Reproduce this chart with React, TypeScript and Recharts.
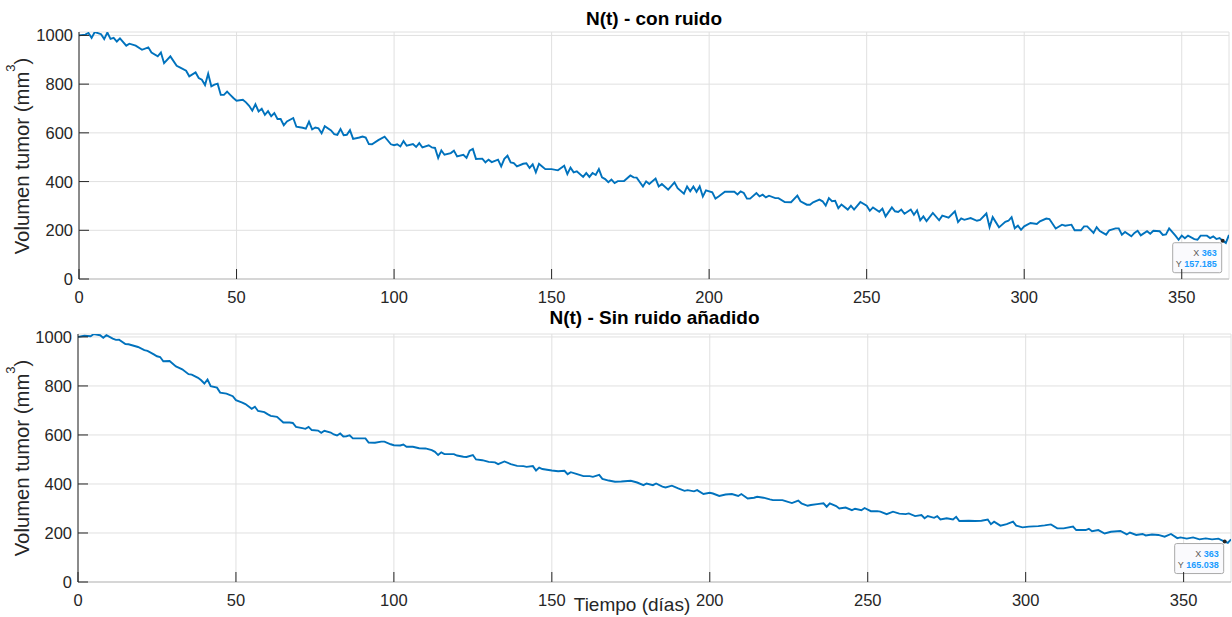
import React from 'react';
import { LineChart, Line, XAxis, YAxis, CartesianGrid, ReferenceDot } from 'recharts';

// axis ticks
const xTicks = [0, 50, 100, 150, 200, 250, 300, 350];
const yTicks = [0, 200, 400, 600, 800, 1000];

// N(t) - con ruido
const diasConRuido = [
  0, 2, 3, 4, 5, 7, 8, 9, 10, 11,
  12, 13, 15, 16, 18, 20, 22, 23, 25, 26,
  27, 29, 31, 32, 34, 35, 37, 38, 39, 40,
  41, 42, 43, 44, 45, 46, 47, 48, 49, 50,
  52, 53, 54, 55, 56, 57, 58, 59, 60, 61,
  62, 63, 64, 65, 66, 68, 69, 71, 72, 73,
  74, 75, 76, 77, 78, 80, 81, 82, 83, 84,
  85, 86, 87, 89, 90, 91, 92, 93, 95, 97,
  99, 100, 101, 102, 103, 104, 106, 107, 108, 109,
  111, 112, 113, 114, 115, 116, 118, 119, 120, 122,
  123, 124, 125, 126, 128, 129, 130, 131, 133, 134,
  135, 136, 137, 138, 139, 141, 142, 143, 144, 145,
  146, 147, 148, 150, 152, 154, 155, 156, 157, 158,
  160, 161, 162, 163, 164, 165, 166, 167, 168, 169,
  170, 171, 173, 175, 176, 177, 179, 180, 181, 183,
  184, 185, 187, 189, 190, 192, 193, 194, 195, 196,
  197, 198, 199, 201, 202, 203, 205, 208, 209, 210,
  211, 212, 213, 215, 216, 217, 218, 219, 221, 222,
  224, 226, 228, 229, 231, 232, 233, 235, 236, 237,
  238, 239, 240, 241, 242, 244, 245, 246, 248, 250,
  251, 252, 254, 255, 256, 258, 259, 260, 261, 262,
  264, 265, 266, 267, 268, 269, 271, 273, 274, 276,
  278, 279, 280, 281, 283, 285, 286, 288, 289, 290,
  292, 294, 295, 296, 297, 298, 299, 300, 302, 304,
  305, 307, 308, 310, 312, 313, 315, 316, 318, 319,
  320, 322, 323, 324, 326, 327, 329, 330, 331, 332,
  334, 335, 336, 337, 339, 340, 341, 343, 344, 345,
  346, 348, 349, 350, 351, 352, 354, 355, 356, 358,
  359, 360, 361, 362, 363, 364, 365,
];
const volConRuido = [
  1000, 1003, 1010, 990, 1014, 1005, 985, 1012, 986, 990,
  975, 988, 958, 966, 958, 941, 951, 930, 914, 930,
  886, 914, 875, 869, 855, 832, 848, 825, 818, 796,
  843, 791, 798, 802, 756, 756, 769, 756, 743, 732,
  736, 725, 711, 691, 717, 688, 699, 674, 689, 668,
  681, 657, 657, 631, 647, 661, 625, 621, 617, 646,
  614, 622, 619, 598, 627, 610, 595, 592, 616, 590,
  592, 611, 575, 581, 585, 581, 554, 553, 570, 584,
  553, 549, 553, 544, 566, 547, 554, 542, 558, 540,
  549, 540, 538, 497, 528, 510, 517, 527, 503, 510,
  497, 527, 534, 493, 494, 479, 490, 480, 490, 462,
  493, 506, 479, 476, 462, 473, 475, 456, 471, 438,
  473, 462, 451, 451, 446, 465, 431, 457, 438, 442,
  419, 435, 419, 435, 427, 451, 417, 410, 397, 408,
  394, 402, 402, 425, 417, 416, 380, 401, 390, 412,
  380, 390, 367, 397, 373, 350, 380, 360, 380, 358,
  380, 339, 364, 356, 330, 339, 358, 358, 347, 360,
  353, 330, 330, 353, 339, 346, 335, 342, 332, 332,
  316, 315, 342, 319, 305, 305, 315, 326, 319, 301,
  332, 319, 321, 291, 306, 285, 301, 285, 316, 301,
  280, 294, 276, 289, 257, 294, 278, 275, 285, 268,
  285, 264, 282, 241, 257, 238, 271, 241, 260, 252,
  278, 234, 249, 243, 250, 239, 243, 269, 213, 254,
  212, 235, 239, 254, 208, 219, 202, 216, 230, 226,
  237, 248, 246, 207, 223, 219, 223, 200, 200, 216,
  216, 189, 213, 197, 182, 200, 208, 208, 182, 193,
  175, 189, 198, 179, 196, 186, 198, 196, 181, 183,
  208, 178, 161, 178, 167, 178, 164, 161, 178, 178,
  168, 175, 164, 168, 157.185, 148, 181,
];

// N(t) - Sin ruido añadido
const diasSinRuido = [
  0, 2, 4, 5, 7, 8, 9, 11, 12, 13,
  15, 16, 19, 21, 22, 24, 25, 26, 27, 29,
  31, 33, 35, 36, 38, 39, 40, 41, 42, 44,
  45, 47, 49, 50, 52, 53, 55, 56, 57, 59,
  60, 61, 63, 65, 67, 68, 69, 71, 72, 73,
  74, 76, 77, 78, 80, 81, 82, 83, 84, 85,
  86, 87, 89, 91, 92, 94, 96, 97, 99, 100,
  102, 103, 104, 106, 108, 110, 112, 113, 114, 115,
  116, 119, 120, 122, 123, 125, 126, 128, 130, 132,
  133, 135, 137, 139, 141, 142, 144, 145, 146, 147,
  150, 152, 154, 155, 156, 158, 160, 162, 163, 165,
  166, 168, 170, 172, 175, 177, 179, 180, 182, 183,
  185, 186, 188, 190, 192, 193, 195, 196, 198, 200,
  201, 203, 205, 207, 209, 210, 212, 214, 215, 217,
  219, 220, 223, 224, 226, 228, 229, 231, 232, 234,
  236, 237, 238, 240, 241, 243, 245, 246, 248, 249,
  251, 253, 254, 256, 258, 260, 262, 263, 265, 267,
  268, 269, 271, 272, 273, 275, 277, 278, 279, 282,
  284, 286, 288, 289, 290, 292, 294, 296, 297, 299,
  301, 304, 306, 308, 310, 312, 315, 316, 319, 320,
  321, 323, 325, 327, 330, 332, 333, 335, 337, 338,
  340, 342, 344, 346, 348, 349, 351, 353, 355, 357,
  359, 361, 363, 364, 365,
];
const volSinRuido = [
  1000, 1005, 1003, 1012, 1007, 997, 1007, 993, 988, 989,
  971, 970, 959, 946, 943, 929, 921, 918, 901, 902,
  880, 868, 848, 846, 833, 823, 810, 826, 799, 793,
  773, 769, 758, 742, 732, 726, 707, 715, 698, 693,
  685, 678, 674, 651, 651, 649, 633, 628, 625, 633,
  620, 618, 609, 617, 610, 602, 598, 606, 594, 595,
  599, 586, 586, 586, 569, 568, 573, 573, 562, 558,
  557, 561, 552, 552, 546, 545, 538, 531, 518, 529,
  522, 522, 516, 511, 510, 518, 500, 497, 490, 488,
  481, 492, 481, 474, 473, 470, 473, 455, 467, 461,
  455, 452, 454, 440, 448, 440, 432, 432, 429, 437,
  421, 414, 409, 410, 413, 406, 395, 402, 395, 402,
  389, 386, 393, 382, 372, 375, 370, 375, 359, 364,
  361, 351, 357, 359, 351, 359, 341, 344, 348, 344,
  337, 334, 334, 330, 322, 332, 321, 311, 314, 318,
  321, 307, 321, 310, 300, 304, 293, 299, 293, 302,
  289, 289, 287, 277, 287, 279, 277, 280, 269, 273,
  260, 269, 262, 269, 255, 260, 255, 266, 249, 250,
  249, 250, 255, 236, 246, 230, 236, 246, 230, 223,
  226, 228, 231, 235, 219, 219, 226, 212, 212, 217,
  207, 212, 198, 205, 208, 194, 202, 192, 196, 190,
  194, 192, 185, 196, 179, 182, 177, 182, 174, 178,
  174, 177, 165.038, 160, 174,
];

// data tips shown on the figure
const tipConRuido = { x: 363, y: 157.185 };
const tipSinRuido = { x: 363, y: 165.038 };

const DARK = '#262626';
const GRAY_AXIS = '#bdbdbd';
const BLUE = '#0072BD';
const TICK = 10;
const FONT = '"Liberation Sans", Arial, Helvetica, sans-serif';

const BottomTick = ({ x, y, payload }: any) => (
  <g>
    <line x1={x} y1={y} x2={x} y2={y - TICK} stroke={DARK} />
    <text x={x} y={y + 23.5} textAnchor="middle" fontSize={16.5} fill={DARK}>
      {payload.value}
    </text>
  </g>
);

const TopTick = ({ x, y }: any) => <line x1={x} y1={y} x2={x} y2={y + TICK} stroke={DARK} />;

const LeftTick = ({ x, y, payload }: any) => (
  <g>
    <line x1={x} y1={y} x2={x + TICK} y2={y} stroke={DARK} />
    <text x={x - 6} y={y + 6} textAnchor="end" fontSize={16.5} fill={DARK}>
      {payload.value}
    </text>
  </g>
);

const RightTick = ({ x, y }: any) => <line x1={x} y1={y} x2={x - TICK} y2={y} stroke={DARK} />;

const DataTip = ({ cx, cy, tip }: any) => (
  <g>
    <rect x={cx - 50} y={cy + 2} width={49} height={30} rx={2} fill="#fafafd" stroke="#a9a9a9" />
    <text x={cx - 6} y={cy + 15} textAnchor="end" fontSize={9}>
      <tspan fill="#5a5a5a">X </tspan>
      <tspan fill="#1a9cff" fontWeight="bold">{tip.x}</tspan>
    </text>
    <text x={cx - 6} y={cy + 26} textAnchor="end" fontSize={9}>
      <tspan fill="#5a5a5a">Y </tspan>
      <tspan fill="#1a9cff" fontWeight="bold">{tip.y.toFixed(3)}</tspan>
    </text>
    <circle cx={cx} cy={cy} r={2} fill={DARK} />
  </g>
);

function Panel({ dias, vol, yMax, height, margin, tip }: any) {
  const data = dias.map((t: number, i: number) => ({ t, n: vol[i] }));
  return (
    <LineChart width={1232} height={height} data={data} margin={margin}>
      <CartesianGrid stroke="#e0e0e0" />
      <XAxis
        dataKey="t"
        type="number"
        domain={[0, 365]}
        ticks={xTicks}
        interval={0}
        allowDataOverflow
        tickSize={0}
        tickMargin={0}
        tickLine={false}
        axisLine={{ stroke: GRAY_AXIS }}
        height={25}
        tick={BottomTick}
      />
      <XAxis
        xAxisId="top"
        orientation="top"
        type="number"
        domain={[0, 365]}
        ticks={xTicks}
        interval={0}
        allowDataOverflow
        tickSize={0}
        tickMargin={0}
        tickLine={false}
        axisLine={{ stroke: GRAY_AXIS }}
        height={0}
        tick={TopTick}
      />
      <YAxis
        type="number"
        domain={[0, yMax]}
        ticks={yTicks}
        interval={0}
        allowDataOverflow
        tickSize={0}
        tickMargin={0}
        tickLine={false}
        axisLine={{ stroke: DARK }}
        width={60}
        tick={LeftTick}
      />
      <YAxis
        yAxisId="right"
        orientation="right"
        type="number"
        domain={[0, yMax]}
        ticks={yTicks}
        interval={0}
        allowDataOverflow
        tickSize={0}
        tickMargin={0}
        tickLine={false}
        axisLine={{ stroke: DARK }}
        width={0}
        tick={RightTick}
      />
      <Line
        dataKey="n"
        type="linear"
        stroke={BLUE}
        strokeWidth={1.9}
        dot={false}
        isAnimationActive={false}
      />
      <ReferenceDot x={tip.x} y={tip.y} r={2} shape={(p: any) => <DataTip {...p} tip={tip} />} />
    </LineChart>
  );
}

const YLabel = ({ x, y }: { x: number; y: number }) => (
  <text transform={`translate(${x},${y}) rotate(-90)`} textAnchor="middle" fontSize={20.3} fill={DARK}>
    Volumen tumor (mm
    <tspan dy={-14} fontSize={13}>3</tspan>
    <tspan dy={14}>)</tspan>
  </text>
);

export default function App() {
  return (
    <div
      style={{
        position: 'absolute',
        left: 0,
        top: 0,
        width: 1232,
        height: 617,
        background: '#fff',
        fontFamily: FONT,
      }}
    >
      <div style={{ position: 'absolute', left: 0, top: 0 }}>
        <Panel
          dias={diasConRuido}
          vol={volConRuido}
          yMax={1014}
          height={310}
          margin={{ top: 32, right: 3, bottom: 6, left: 19 }}
          tip={tipConRuido}
        />
      </div>
      <div style={{ position: 'absolute', left: 0, top: 300 }}>
        <Panel
          dias={diasSinRuido}
          vol={volSinRuido}
          yMax={1012}
          height={317}
          margin={{ top: 34, right: 1, bottom: 10, left: 18 }}
          tip={tipSinRuido}
        />
      </div>
      <svg
        width={1232}
        height={617}
        style={{ position: 'absolute', left: 0, top: 0, pointerEvents: 'none' }}
      >
        <text x={654} y={25} textAnchor="middle" fontSize={19} fontWeight="bold" fill="#000">
          N(t) - con ruido
        </text>
        <text x={654.5} y={324} textAnchor="middle" fontSize={19} fontWeight="bold" fill="#000">
          N(t) - Sin ruido añadido
        </text>
        <YLabel x={29} y={156} />
        <YLabel x={29} y={458} />
        <text x={632} y={611} textAnchor="middle" fontSize={19} fill={DARK}>
          Tiempo (días)
        </text>
      </svg>
    </div>
  );
}
